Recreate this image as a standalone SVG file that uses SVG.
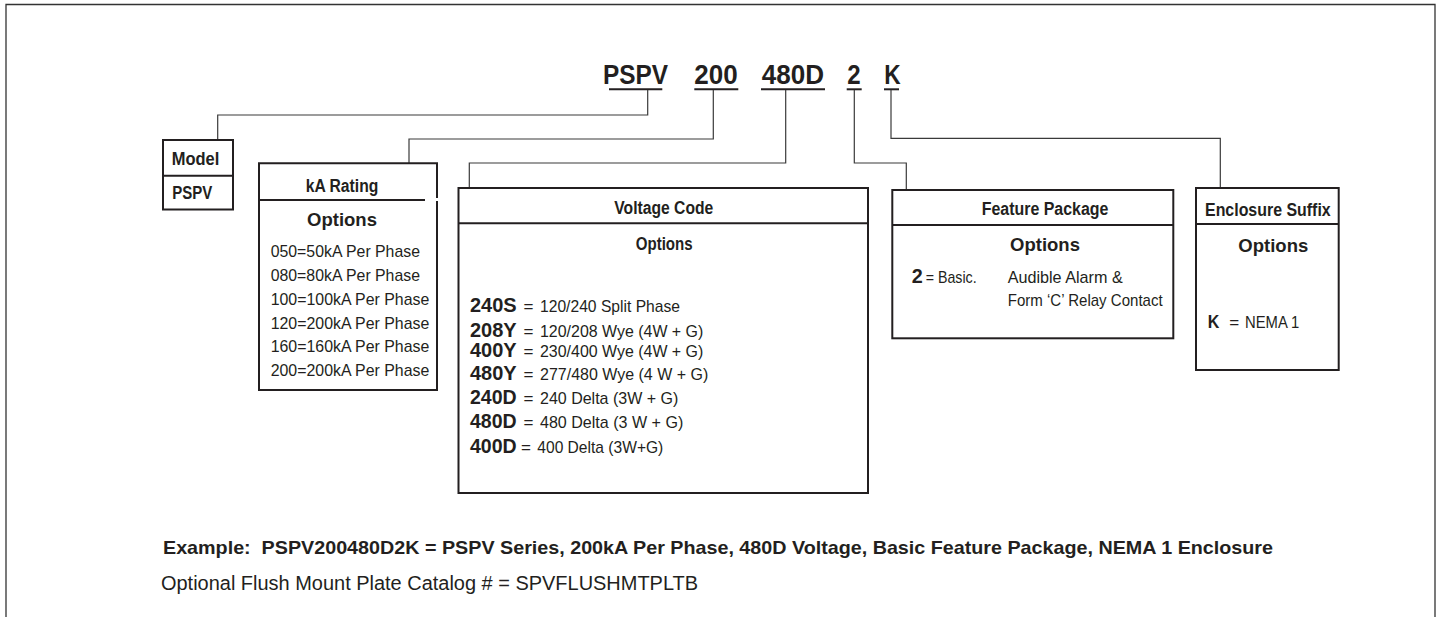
<svg xmlns="http://www.w3.org/2000/svg" width="1439" height="617" viewBox="0 0 1439 617">
<style>
.box{fill:none;stroke:#231f20;stroke-width:2}
.conn{fill:none;stroke:#3a3a3a;stroke-width:1.2}
.ul{stroke:#231f20;stroke-width:2}
.hc{font-family:'Liberation Sans Narrow','Liberation Sans',sans-serif;font-weight:bold;fill:#231f20}
.nc{font-family:'Liberation Sans Narrow','Liberation Sans',sans-serif;fill:#231f20}
.hb{font-family:'Liberation Sans',sans-serif;font-weight:bold;fill:#231f20}
.nb{font-family:'Liberation Sans',sans-serif;fill:#231f20}
</style>
<rect width="1439" height="617" fill="#ffffff"/>
<path d="M6,617 V4.5 H1435 V617" fill="none" stroke="#333" stroke-width="1.3"/>

<g id="code">
<text class="hc" x="603" y="84" font-size="27" textLength="65" lengthAdjust="spacingAndGlyphs">PSPV</text>
<text class="hc" x="694.3" y="84" font-size="27" textLength="43.4" lengthAdjust="spacingAndGlyphs">200</text>
<text class="hc" x="761.7" y="84" font-size="27" textLength="62.3" lengthAdjust="spacingAndGlyphs">480D</text>
<text class="hc" x="847.3" y="84" font-size="27" textLength="13.4" lengthAdjust="spacingAndGlyphs">2</text>
<text class="hc" x="884.3" y="84" font-size="27" textLength="16.4" lengthAdjust="spacingAndGlyphs">K</text>
<line class="ul" x1="609" y1="89.3" x2="662.3" y2="89.3"/>
<line class="ul" x1="694.3" y1="89.3" x2="738.3" y2="89.3"/>
<line class="ul" x1="761" y1="89.3" x2="825" y2="89.3"/>
<line class="ul" x1="846.7" y1="89.3" x2="861.7" y2="89.3"/>
<line class="ul" x1="884" y1="89.3" x2="899" y2="89.3"/>
</g>

<g id="connectors">
<path class="conn" d="M647.7,90 V115 H217.7 V140"/>
<path class="conn" d="M713.3,90 V139 H409 V163"/>
<path class="conn" d="M785.7,90 V163 H469.3 V188"/>
<path class="conn" d="M854.3,90 V163 H906.3 V190"/>
<path class="conn" d="M891,90 V138.3 H1220.3 V188"/>
</g>

<g id="model">
<rect class="box" x="163" y="140" width="70" height="69.5"/>
<line class="box" x1="163" y1="175.7" x2="233" y2="175.7"/>
<text class="hc" x="171.7" y="164.5" font-size="18" textLength="47.6" lengthAdjust="spacingAndGlyphs">Model</text>
<text class="hc" x="172.3" y="199" font-size="18" textLength="40" lengthAdjust="spacingAndGlyphs">PSPV</text>
</g>

<g id="ka-rating">
<path class="box" d="M437,198 V163.3 H259 V390 H437 V201"/>
<line class="box" x1="259" y1="200" x2="425" y2="200"/>
<text class="hc" x="305.7" y="191.5" font-size="18" textLength="72.6" lengthAdjust="spacingAndGlyphs">kA Rating</text>
<text class="hb" x="342" y="225.5" font-size="18.5" text-anchor="middle">Options</text>
<g class="nc" font-size="17">
<text x="270.7" y="257" textLength="149.3" lengthAdjust="spacingAndGlyphs">050=50kA Per Phase</text>
<text x="270.7" y="280.5" textLength="149.3" lengthAdjust="spacingAndGlyphs">080=80kA Per Phase</text>
<text x="270.7" y="304.5" textLength="158.6" lengthAdjust="spacingAndGlyphs">100=100kA Per Phase</text>
<text x="270.7" y="328.5" textLength="158.6" lengthAdjust="spacingAndGlyphs">120=200kA Per Phase</text>
<text x="270.7" y="352" textLength="158.6" lengthAdjust="spacingAndGlyphs">160=160kA Per Phase</text>
<text x="270.7" y="376" textLength="158.6" lengthAdjust="spacingAndGlyphs">200=200kA Per Phase</text>
</g>
</g>

<g id="voltage-code">
<rect class="box" x="458.5" y="188" width="409.5" height="305"/>
<line class="box" x1="458.5" y1="223.3" x2="868" y2="223.3"/>
<text class="hc" x="614.3" y="213.5" font-size="18" textLength="99" lengthAdjust="spacingAndGlyphs">Voltage Code</text>
<text class="hc" x="635.7" y="249.5" font-size="18" textLength="57" lengthAdjust="spacingAndGlyphs">Options</text>
<g class="hb" font-size="20">
<text x="470" y="312.3" textLength="46.7" lengthAdjust="spacingAndGlyphs">240S</text>
<text x="470" y="336.7" textLength="46.7" lengthAdjust="spacingAndGlyphs">208Y</text>
<text x="470" y="356.7" textLength="46.7" lengthAdjust="spacingAndGlyphs">400Y</text>
<text x="470" y="380" textLength="46.7" lengthAdjust="spacingAndGlyphs">480Y</text>
<text x="470" y="404" textLength="46.7" lengthAdjust="spacingAndGlyphs">240D</text>
<text x="470" y="428.3" textLength="46.7" lengthAdjust="spacingAndGlyphs">480D</text>
<text x="470" y="452.7" textLength="46.7" lengthAdjust="spacingAndGlyphs">400D</text>
</g>
<g class="nc" font-size="17">
<text x="523.5" y="312.3">=</text>
<text x="523.5" y="336.7">=</text>
<text x="523.5" y="356.7">=</text>
<text x="523.5" y="380">=</text>
<text x="523.5" y="404">=</text>
<text x="523.5" y="428.3">=</text>
<text x="521" y="452.7">=</text>
<text x="540" y="312.3" textLength="140" lengthAdjust="spacingAndGlyphs">120/240 Split Phase</text>
<text x="540" y="336.7" textLength="163.3" lengthAdjust="spacingAndGlyphs">120/208 Wye (4W + G)</text>
<text x="540" y="356.7" textLength="163.3" lengthAdjust="spacingAndGlyphs">230/400 Wye (4W + G)</text>
<text x="540" y="380" textLength="168.3" lengthAdjust="spacingAndGlyphs">277/480 Wye (4 W + G)</text>
<text x="540" y="404" textLength="138.3" lengthAdjust="spacingAndGlyphs">240 Delta (3W + G)</text>
<text x="540" y="428.3" textLength="143.3" lengthAdjust="spacingAndGlyphs">480 Delta (3 W + G)</text>
<text x="537.3" y="452.7" textLength="126" lengthAdjust="spacingAndGlyphs">400 Delta (3W+G)</text>
</g>
</g>

<g id="feature-package">
<rect class="box" x="892.3" y="190" width="281" height="148.3"/>
<line class="box" x1="892.3" y1="225" x2="1173.3" y2="225"/>
<text class="hc" x="981.7" y="214.5" font-size="18" textLength="126.7" lengthAdjust="spacingAndGlyphs">Feature Package</text>
<text class="hb" x="1045" y="251" font-size="18.5" text-anchor="middle">Options</text>
<text class="hb" x="911.7" y="283.3" font-size="20" textLength="11" lengthAdjust="spacingAndGlyphs">2</text>
<text class="nc" x="925.7" y="283.3" font-size="17" textLength="51" lengthAdjust="spacingAndGlyphs">= Basic.</text>
<text class="nc" x="1007.7" y="283.3" font-size="17" textLength="115" lengthAdjust="spacingAndGlyphs">Audible Alarm &amp;</text>
<text class="nc" x="1007.7" y="306" font-size="17" textLength="155" lengthAdjust="spacingAndGlyphs">Form ‘C’ Relay Contact</text>
</g>

<g id="enclosure-suffix">
<rect class="box" x="1196" y="188" width="142.7" height="182"/>
<line class="box" x1="1196" y1="224" x2="1338.7" y2="224"/>
<text class="hc" x="1205" y="215.5" font-size="18" textLength="125.7" lengthAdjust="spacingAndGlyphs">Enclosure Suffix</text>
<text class="hb" x="1273.3" y="251.5" font-size="18.5" text-anchor="middle">Options</text>
<text class="hb" x="1207.7" y="327.7" font-size="19" textLength="11.6" lengthAdjust="spacingAndGlyphs">K</text>
<text class="nc" x="1229.3" y="327.7" font-size="17">=</text>
<text class="nc" x="1245" y="327.7" font-size="17" textLength="54.3" lengthAdjust="spacingAndGlyphs">NEMA 1</text>
</g>

<g id="notes">
<text class="hb" x="163" y="554" font-size="19" textLength="1110" lengthAdjust="spacingAndGlyphs" xml:space="preserve">Example:  PSPV200480D2K = PSPV Series, 200kA Per Phase, 480D Voltage, Basic Feature Package, NEMA 1 Enclosure</text>
<text class="nb" x="161" y="590" font-size="20" fill="#333" textLength="537" lengthAdjust="spacingAndGlyphs">Optional Flush Mount Plate Catalog # = SPVFLUSHMTPLTB</text>
</g>
</svg>
